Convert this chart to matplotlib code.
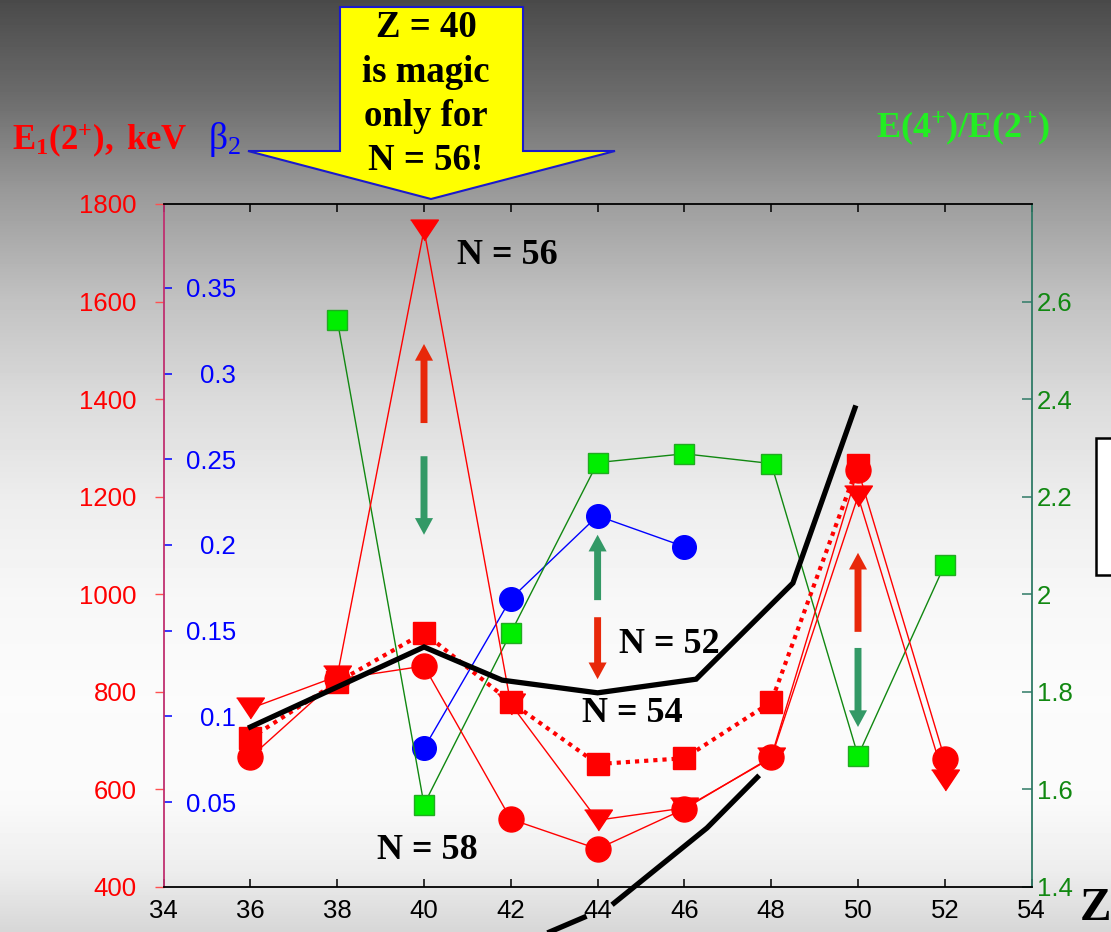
import numpy as np
import matplotlib.pyplot as plt
from matplotlib.patches import Polygon, Rectangle, FancyArrowPatch

plt.rcParams['mathtext.fontset'] = 'custom'
plt.rcParams['mathtext.rm'] = 'Liberation Serif'
plt.rcParams['mathtext.bf'] = 'Liberation Serif:bold'
plt.rcParams['mathtext.it'] = 'Liberation Serif:italic'
plt.rcParams['font.family'] = 'Liberation Sans'

# --- data ---
Z_red = [36, 38, 40, 42, 44, 46, 48, 50, 52]
E_N56 = [766, 832, 1747, 775, 537, 562, 664, 1201, 619]     # triangles
E_N58 = [666, 826, 853, 539, 478, 560, 666, 1255, 662]      # circles
Z_N54 = [36, 38, 40, 42, 44, 46, 48, 50]
E_N54 = [705, 820, 921, 779, 652, 664, 779, 1265]           # squares, dotted

Z_beta = [40, 42, 44, 46]
beta2 = [0.0814, 0.1686, 0.217, 0.199]

Z_ratio = [38, 40, 42, 44, 46, 48, 50, 52]
ratio42 = [2.563, 1.569, 1.921, 2.27, 2.288, 2.268, 1.669, 2.061]

Z_black1 = [36, 40, 41.8, 44.0, 46.27, 48.5, 49.93]
E_black1 = [728, 892, 824, 798, 826, 1023, 1382]
Z_black2 = [42.9, 43.69, np.nan, 44.38, 46.52, 47.68]
E_black2 = [308, 338, np.nan, 367, 521, 625]

# arrows: (Z, E_tail, E_head, colour)
arrows = [(40, 1351, 1513, 'red'), (40, 1283, 1122, 'green'),
          (44, 988, 1122, 'green'), (44, 953, 826, 'red'),
          (50, 923, 1085, 'red'), (50, 890, 728, 'green')]
arrow_cols = {'red': '#e8280a', 'green': '#339966'}

W, H = 1111, 932
fig = plt.figure(figsize=(W / 100, H / 100), dpi=100)

# background gradient
bg_y = [0, 100, 190, 300, 400, 500, 600, 700, 800, 870, 932]
bg_v = [0.29, 0.43, 0.60, 0.76, 0.86, 0.93, 0.97, 0.985, 0.98, 0.93, 0.84]
rows = np.interp(np.arange(H), bg_y, bg_v)
bg = fig.add_axes([0, 0, 1, 1], zorder=-10)
bg.imshow(np.repeat(rows[:, None], 2, axis=1), cmap='gray', vmin=0, vmax=1,
          aspect='auto', extent=[0, 1, 0, 1])
bg.axis('off')

ax = fig.add_axes([163.6 / W, (H - 887) / H, 868 / W, 683 / H])
axb = ax.twinx()
axg = ax.twinx()
ax.set_zorder(3)
for a in (ax, axb, axg):
    a.patch.set_visible(False)
for a in (axb, axg):
    for s in a.spines.values():
        s.set_visible(False)

ax.set_xlim(34, 54)
ax.set_ylim(400, 1800)
axb.set_ylim(0.0004, 0.399)
axg.set_ylim(1.4, 2.8)

ax.set_xticks(np.arange(34, 55, 2))
ax.set_yticks(np.arange(400, 1801, 200))
axb.set_yticks([0.05, 0.1, 0.15, 0.2, 0.25, 0.3, 0.35])
axb.set_yticklabels(['0.05', '0.1', '0.15', '0.2', '0.25', '0.3', '0.35'])
axg.set_yticks([1.4, 1.6, 1.8, 2.0, 2.2, 2.4, 2.6])
axg.set_yticklabels(['1.4', '1.6', '1.8', '2', '2.2', '2.4', '2.6'])

ax.spines['left'].set_color('#c03070')
ax.spines['right'].set_color('#2f7a66')
for s in ax.spines.values():
    s.set_linewidth(1.3)

ax.tick_params(axis='x', direction='in', top=True, length=6, width=1.1,
               labelsize=18.5, pad=9)
ax.tick_params(axis='y', direction='out', length=6.5, width=1, color='#ff5050',
               labelcolor='red', labelsize=18.5, pad=13, right=False)
axb.yaxis.set_ticks_position('left')
axb.tick_params(axis='y', direction='in', length=6, width=1.1, color='blue',
                labelcolor='blue', labelsize=18.5, pad=-52)
axg.tick_params(axis='y', direction='in', length=7, width=1.1, color='#2f7a66',
                labelcolor='#118811', labelsize=18.5, pad=4)

# triangle marker, wider than tall
tri = [(-1, 0.75), (1, 0.75), (0, -0.75)]

# green ratio and blue beta2
axg.plot(Z_ratio, ratio42, '-', color='#118811', lw=1, marker='s', ms=14,
         mfc='#00ee00', mec='#22aa22', mew=1)
axb.plot(Z_beta, beta2, '-', color='blue', lw=1, marker='o', ms=17, mfc='blue', mec='blue')

# red E(2+) data
ax.plot(Z_red, E_N56, '-', color='red', lw=1, marker=tri, ms=20, mfc='red', mec='red')
ax.plot(Z_red, E_N58, '-', color='red', lw=1, marker='o', ms=18, mfc='red', mec='red')
ax.plot(Z_N54, E_N54, color='red', lw=3, ls=(0, (1, 1.2)), marker='s', ms=16,
        mfc='red', mec='red')

# black curves
ax.plot(Z_black1, E_black1, '-', color='black', lw=3.8, solid_joinstyle='miter')
ax.plot(Z_black2, E_black2, '-', color='black', lw=3.8, clip_on=False)

for z, e0, e1, c in arrows:
    ax.add_patch(FancyArrowPatch((z, e0), (z, e1),
                 arrowstyle='simple,head_width=1.3,head_length=1.2,tail_width=0.5',
                 mutation_scale=10, color=arrow_cols[c], lw=0,
                 shrinkA=0, shrinkB=0))

nfont = dict(family='Liberation Serif', weight='bold', size=26,
             ha='center', va='baseline', color='black')
ax.text(41.91, 1677, 'N = 56', **nfont)
ax.text(40.07, 457, 'N = 58', **nfont)
ax.text(45.65, 880, 'N = 52', **nfont)
ax.text(44.81, 738, 'N = 54', **nfont)

# yellow arrow callout
pts = [(340, 7), (523, 7), (523, 151), (615, 151), (431, 199), (248, 151), (340, 151)]
fig.patches.append(Polygon([(x / W, 1 - y / H) for x, y in pts], closed=True,
                           transform=fig.transFigure, facecolor='#ffff00',
                           edgecolor='#1a1acc', lw=1.5, zorder=5))
for txt, yb in [('Z = 40', 37), ('is magic', 82), ('only for', 126), ('N = 56!', 170)]:
    fig.text(426 / W, 1 - yb / H, txt, family='Liberation Serif', weight='bold',
             size=26.5, ha='center', va='baseline', zorder=6)

fig.text(12 / W, 1 - 149 / H, r'$\mathbf{E_1(2^{+}),\ keV}$', color='red', size=25,
         ha='left', va='baseline')
fig.text(208 / W, 1 - 149 / H, r'β$_{\mathrm{2}}$', family='Liberation Serif',
         color='blue', size=27, ha='left', va='baseline')
fig.text(876 / W, 1 - 138 / H, r'$\mathbf{E(4^{+})/E(2^{+})}$', color='#22ee22', size=26,
         ha='left', va='baseline')
fig.text(1095 / W, 1 - 920 / H, 'Z', family='Liberation Serif', weight='bold',
         size=34, ha='center', va='baseline')

# partially visible legend box at the right edge
fig.patches.append(Rectangle((1096 / W, 1 - 575 / H), 40 / W, 137 / H,
                             transform=fig.transFigure, facecolor='white',
                             edgecolor='black', lw=1.8))

fig.savefig('out.png', dpi=100)
